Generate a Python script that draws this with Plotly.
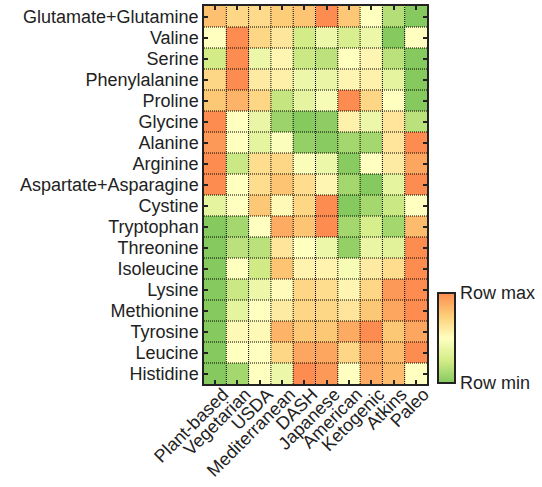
import plotly.graph_objects as go

amino_acids = ["Glutamate+Glutamine", "Valine", "Serine", "Phenylalanine", "Proline",
               "Glycine", "Alanine", "Arginine", "Aspartate+Asparagine", "Cystine",
               "Tryptophan", "Threonine", "Isoleucine", "Lysine", "Methionine",
               "Tyrosine", "Leucine", "Histidine"]
diets = ["Plant-based", "Vegetarian", "USDA", "Mediterranean", "DASH", "Japanese",
         "American", "Ketogenic", "Atkins", "Paleo"]

# Row-normalised values (0 = row min, 1 = row max)
glutamate_glutamine = [0.80, 0.70, 0.68, 0.75, 0.78, 1.00, 0.77, 0.50, 0.15, 0.00]
valine = [0.50, 1.00, 0.70, 0.62, 0.25, 0.40, 0.28, 0.40, 0.00, 0.50]
serine = [0.25, 1.00, 0.40, 0.55, 0.22, 0.18, 0.50, 0.55, 0.17, 0.00]
phenylalanine = [0.70, 1.00, 0.60, 0.58, 0.40, 0.38, 0.55, 0.57, 0.35, 0.00]
proline = [0.77, 0.85, 0.70, 0.20, 0.36, 0.45, 1.00, 0.70, 0.50, 0.00]
glycine = [1.00, 0.50, 0.38, 0.07, 0.00, 0.03, 0.57, 0.40, 0.63, 0.17]
alanine = [0.95, 0.50, 0.35, 0.48, 0.05, 0.01, 0.10, 0.10, 0.63, 1.00]
arginine = [1.00, 0.22, 0.67, 0.70, 0.47, 0.40, 0.01, 0.50, 0.60, 0.90]
aspartate_asparagine = [1.00, 0.50, 0.67, 0.78, 0.67, 0.55, 0.10, 0.00, 0.35, 1.00]
cystine = [0.35, 0.50, 0.77, 0.53, 0.70, 1.00, 0.00, 0.10, 0.22, 0.50]
tryptophan = [0.00, 0.10, 0.50, 0.88, 0.78, 1.00, 0.10, 0.27, 0.10, 0.82]
threonine = [0.00, 0.17, 0.17, 0.63, 0.50, 0.40, 0.05, 0.38, 0.33, 1.00]
isoleucine = [0.00, 0.50, 0.24, 0.78, 0.56, 0.56, 0.45, 0.60, 0.67, 1.00]
lysine = [0.00, 0.22, 0.40, 0.52, 0.70, 0.67, 0.55, 0.70, 0.95, 1.00]
methionine = [0.00, 0.35, 0.50, 0.60, 0.70, 0.70, 0.63, 0.77, 0.90, 1.00]
tyrosine = [0.00, 0.53, 0.53, 0.85, 0.77, 0.77, 0.88, 1.00, 0.77, 0.90]
leucine = [0.00, 0.50, 0.50, 0.70, 0.90, 0.90, 0.70, 0.90, 0.82, 1.00]
histidine = [0.00, 0.10, 0.50, 0.40, 1.00, 0.95, 0.50, 0.88, 0.82, 0.50]

z = [glutamate_glutamine, valine, serine, phenylalanine, proline, glycine, alanine,
     arginine, aspartate_asparagine, cystine, tryptophan, threonine, isoleucine,
     lysine, methionine, tyrosine, leucine, histidine]

colorscale = [[0.0, "#86c95f"], [0.25, "#d3ec88"], [0.5, "#ffffc0"],
              [0.75, "#fdcd78"], [1.0, "#fd8c50"]]

font_family = "Liberation Sans, Arial, sans-serif"

fig = go.Figure(go.Heatmap(
    z=z, x=diets, y=amino_acids, zmin=0, zmax=1, colorscale=colorscale,
    colorbar=dict(
        tickvals=[0, 1], ticktext=["Row min", "Row max"], ticks="",
        tickfont=dict(size=18, color="#222", family=font_family),
        thicknessmode="pixels", thickness=17, lenmode="pixels", len=90,
        x=1.049, xanchor="left", y=0.003, yanchor="bottom",
        outlinewidth=2, outlinecolor="#222", xpad=0, ypad=0,
    ),
))

shapes = []
for i in range(1, len(diets)):
    shapes.append(dict(type="line", xref="x", yref="paper", x0=i - 0.5, x1=i - 0.5,
                       y0=0, y1=1, line=dict(color="black", width=1, dash="1px,1px"),
                       layer="above"))
for j in range(1, len(amino_acids)):
    shapes.append(dict(type="line", xref="paper", yref="y", x0=0, x1=1,
                       y0=j - 0.5, y1=j - 0.5,
                       line=dict(color="black", width=1, dash="1px,1px"), layer="above"))

fig.update_layout(
    width=542, height=487,
    margin=dict(l=204, r=115, t=6, b=103, autoexpand=False),
    paper_bgcolor="white", plot_bgcolor="white",
    font=dict(family=font_family, size=18, color="#222"),
    shapes=shapes,
    xaxis=dict(tickmode="array", tickvals=diets, ticktext=diets,
               tickangle=-45, ticks="inside", ticklen=4, tickwidth=2, tickcolor="#222",
               showline=True, linecolor="#222", linewidth=1.5, mirror="allticks",
               showgrid=False, tickfont=dict(size=18), automargin=False,
               ticklabelstandoff=-9, ticklabelshift=8),
    yaxis=dict(tickmode="array", tickvals=amino_acids, ticktext=amino_acids,
               autorange="reversed", ticks="inside", ticklen=4, tickwidth=2,
               tickcolor="#222", showline=True, linecolor="#222", linewidth=1.5,
               mirror="allticks", showgrid=False, tickfont=dict(size=18),
               automargin=False),
)

fig.write_html("out.html")
